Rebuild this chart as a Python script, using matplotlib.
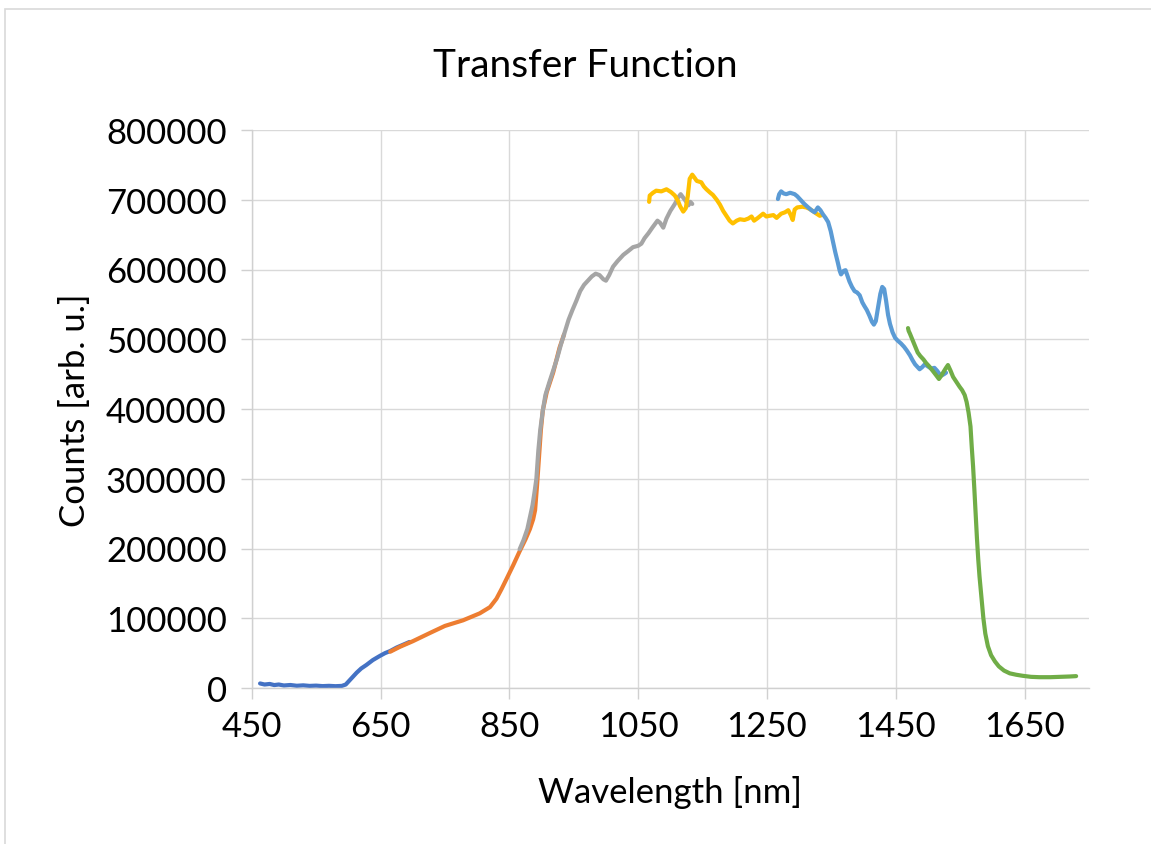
import matplotlib
matplotlib.use("Agg")
import matplotlib.pyplot as plt
from matplotlib.patches import Rectangle

plt.rcParams['font.family'] = ['Lato', 'DejaVu Sans']

# six overlapping spectral segments (wavelength in nm, counts)
wl_1 = [463, 470, 478, 485, 492, 500, 510, 520, 530, 540, 550, 560, 570, 580,
        590, 596, 602, 608, 613, 620, 628, 638, 649, 657, 665, 675, 685, 695]
cnt_1 = [6500, 5000, 5800, 4200, 5000, 3600, 4300, 3200, 3800, 3000, 3400, 2700,
         3100, 2600, 3000, 5000, 11000, 17000, 22000, 28000, 33000, 40000, 46000,
         50000, 53000, 58000, 62000, 66000]

wl_2 = [665, 680, 700, 727, 750, 778, 804, 820, 830, 838, 846, 856, 866, 875,
        882, 887, 890, 893, 896, 899, 902, 908, 918, 928, 935]
cnt_2 = [52000, 59000, 67000, 79000, 89000, 97000, 107000, 116000, 128000,
         142000, 157000, 176000, 196000, 213000, 228000, 242000, 255000, 290000,
         330000, 370000, 398000, 424000, 452000, 488000, 507000]

wl_3 = [866, 872, 878, 882, 886, 889, 892, 895, 898, 902, 906, 912, 918, 924,
        930, 936, 942, 948, 954, 960, 966, 972, 978, 984, 990, 996, 1000, 1005,
        1011, 1018, 1027, 1034, 1042, 1050, 1055, 1060, 1066, 1072, 1080, 1084,
        1089, 1094, 1100, 1107, 1112, 1116, 1120, 1124, 1128, 1131, 1134]
cnt_3 = [199000, 212000, 228000, 245000, 262000, 280000, 300000, 340000, 370000,
         398000, 420000, 438000, 455000, 472000, 492000, 510000, 528000, 542000,
         555000, 569000, 578000, 584000, 590000, 594000, 592000, 586000, 584000,
         592000, 604000, 612000, 621000, 626000, 632000, 634000, 637000, 645000,
         652000, 660000, 670000, 667000, 660000, 673000, 684000, 694000, 703000,
         708000, 703000, 698000, 692000, 697000, 694000]

wl_4 = [1067, 1068, 1073, 1078, 1086, 1094, 1101, 1107, 1112, 1115, 1120, 1124,
        1127, 1130, 1134, 1138, 1141, 1148, 1152, 1156, 1162, 1166, 1172, 1177,
        1182, 1187, 1192, 1197, 1203, 1208, 1215, 1221, 1226, 1230, 1236, 1244,
        1249, 1254, 1260, 1265, 1272, 1278, 1283, 1287, 1290, 1293, 1297, 1305,
        1311, 1316, 1321, 1327, 1332, 1335]
cnt_4 = [697000, 706000, 710000, 713000, 712000, 715000, 711000, 706000, 698000,
         691000, 683000, 688000, 705000, 730000, 736000, 731000, 727000, 725000,
         719000, 715000, 710000, 707000, 700000, 693000, 684000, 677000, 670000,
         666000, 670000, 672000, 671000, 673000, 676000, 670000, 674000, 680000,
         676000, 677000, 678000, 674000, 680000, 682000, 685000, 678000, 671000,
         686000, 689000, 690000, 689000, 687000, 684000, 680000, 677000, 678000]

wl_5 = [1267, 1269, 1272, 1276, 1280, 1286, 1293, 1297, 1301, 1308, 1314, 1319,
        1324, 1329, 1333, 1337, 1341, 1345, 1349, 1352, 1356, 1360, 1363, 1365,
        1369, 1372, 1375, 1378, 1382, 1386, 1390, 1394, 1398, 1401, 1405, 1409,
        1413, 1416, 1419, 1422, 1426, 1429, 1432, 1435, 1438, 1441, 1445, 1449,
        1453, 1458, 1463, 1467, 1472, 1476, 1480, 1484, 1487, 1491, 1495, 1500,
        1505, 1510, 1514, 1518, 1521, 1525, 1528]
cnt_5 = [701000, 708000, 712000, 709000, 708000, 710000, 708000, 705000, 701000,
         694000, 689000, 685000, 682000, 689000, 685000, 679000, 674000, 668000,
         655000, 642000, 625000, 610000, 598000, 593000, 598000, 599000, 591000,
         583000, 575000, 569000, 567000, 563000, 553000, 548000, 542000, 534000,
         525000, 521000, 526000, 543000, 565000, 575000, 572000, 555000, 535000,
         522000, 510000, 502000, 498000, 494000, 489000, 484000, 477000, 470000,
         464000, 460000, 457000, 460000, 464000, 461000, 458000, 459000, 455000,
         450000, 448000, 450000, 452000]

wl_6 = [1469, 1470, 1472, 1476, 1480, 1484, 1488, 1493, 1497, 1502, 1508, 1513,
        1517, 1520, 1524, 1528, 1531, 1535, 1539, 1544, 1549, 1553, 1557, 1560,
        1563, 1566, 1568, 1570, 1572, 1574, 1576, 1578, 1580, 1583, 1586, 1589,
        1593, 1598, 1604, 1610, 1618, 1627, 1637, 1647, 1660, 1673, 1690, 1705,
        1720, 1730]
cnt_6 = [516000, 512000, 508000, 499000, 490000, 481000, 476000, 471000, 466000,
         461000, 454000, 448000, 443000, 447000, 453000, 459000, 463000, 455000,
         446000, 439000, 432000, 427000, 420000, 410000, 395000, 375000, 345000,
         318000, 285000, 250000, 215000, 185000, 160000, 130000, 100000, 78000,
         60000, 47000, 38000, 31000, 25000, 21000, 19000, 17500, 16000, 15500,
         15500, 16000, 16500, 17000]

x_ticks = [450, 650, 850, 1050, 1250, 1450, 1650]
y_ticks = [0, 100000, 200000, 300000, 400000, 500000, 600000, 700000, 800000]

W, H = 1151, 845
fig = plt.figure(figsize=(W / 100, H / 100), dpi=100)
fig.patch.set_facecolor('white')

# chart-area frame (only left and top edges visible)
fig.patches.append(Rectangle((5 / W, -0.2), 1.2, 1.2 - 10 / H, transform=fig.transFigure,
                             fill=False, edgecolor='#D9D9D9', lw=1.2))

ax = fig.add_axes([251.7 / W, 1 - 689 / H, (1089 - 251.7) / W, (689 - 131) / H])

series = [(wl_1, cnt_1, '#4472C4'), (wl_2, cnt_2, '#ED7D31'), (wl_3, cnt_3, '#A5A5A5'),
          (wl_4, cnt_4, '#FFC000'), (wl_5, cnt_5, '#5B9BD5'), (wl_6, cnt_6, '#70AD47')]
for wl, cnt, col in series:
    ax.plot(wl, cnt, color=col, lw=3.0, solid_capstyle='round', solid_joinstyle='round')

ax.set_xlim(450, 1750)
ax.set_ylim(0, 800000)
ax.set_xticks(x_ticks)
ax.set_yticks(y_ticks)
ax.set_xticklabels([str(v) for v in x_ticks])
ax.set_yticklabels([str(v) for v in y_ticks])
ax.grid(True, color='#D9D9D9', lw=1.0)
ax.set_axisbelow(True)
for side in ['top', 'right']:
    ax.spines[side].set_visible(False)
for side in ['left', 'bottom']:
    ax.spines[side].set_color('#D0D0D0')
    ax.spines[side].set_linewidth(1.0)
ax.tick_params(axis='both', colors='#D0D0D0', labelcolor='black', labelsize=25,
               length=8, width=1.0)
ax.tick_params(axis='y', pad=10)
ax.tick_params(axis='x', pad=8)

fig.text(585 / W, 1 - 66 / H, 'Transfer Function', ha='center', va='center', fontsize=28)
fig.text(670 / W, 1 - 793 / H, 'Wavelength [nm]', ha='center', va='center', fontsize=25)
fig.text(75 / W, 1 - 410 / H, 'Counts [arb. u.]', ha='center', va='center', fontsize=25,
         rotation=90)

fig.savefig('out.png', dpi=100)
